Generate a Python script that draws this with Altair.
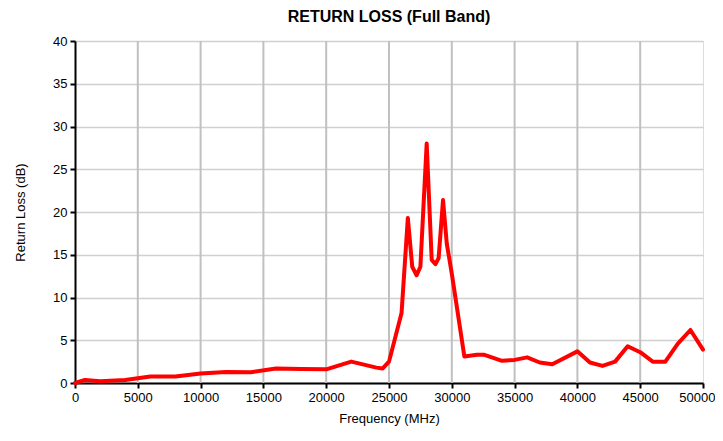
import altair as alt
import pandas as pd

freq = [0, 800, 2000, 4000, 6000, 8000, 10000, 12000, 14000, 16000, 18000, 20000,
        22000, 24000, 24500, 25000, 26000, 26500, 26850, 27200, 27500, 28000, 28400,
        28700, 28950, 29300, 29600, 30000, 31000, 32000, 32600, 34000, 35000, 36000,
        37000, 38000, 40000, 41000, 42000, 43000, 44000, 45000, 46000, 47000, 48000,
        49000, 50000]
rl = [0.0, 0.35, 0.2, 0.35, 0.75, 0.75, 1.1, 1.3, 1.25, 1.7, 1.65, 1.6,
      2.5, 1.8, 1.7, 2.5, 8.2, 19.3, 13.6, 12.6, 13.6, 28.0, 14.4,
      13.9, 14.6, 21.4, 16.3, 12.8, 3.1, 3.3, 3.3, 2.6, 2.7, 3.0,
      2.4, 2.2, 3.7, 2.4, 2.0, 2.5, 4.3, 3.6, 2.5, 2.5, 4.6,
      6.2, 3.9]

df = pd.DataFrame({"f": freq, "rl": rl})

font = "Liberation Sans"

base = alt.Chart(df)

vgrid = alt.Chart(pd.DataFrame({"v": list(range(5000, 50000, 5000))})).mark_rule(
    color="#c0c0c0", strokeWidth=2).encode(x=alt.X("v:Q", scale=alt.Scale(domain=[0, 50000])))

line = base.mark_line(color="#ff0000", strokeWidth=4, interpolate="linear",
                      strokeJoin="round", strokeCap="round").encode(
    x=alt.X("f:Q", scale=alt.Scale(domain=[0, 50000], nice=False),
            axis=alt.Axis(title="Frequency (MHz)", values=list(range(0, 50001, 5000)),
                          grid=False, format="d", domainColor="black", domainWidth=2,
                          tickColor="black", tickSize=5, tickWidth=2, labelFlush=False,
                          labelOverlap=False,
                          labelAlign=alt.expr("datum.value == 50000 ? 'right' : 'center'"),
                          labelOffset=alt.expr("datum.value == 50000 ? 12 : 0"),
                          labelFont=font, labelFontSize=13, labelColor="black",
                          titleFont=font, titleFontSize=13, titleFontWeight="normal",
                          titleColor="black", labelPadding=3, titlePadding=8)),
    y=alt.Y("rl:Q", scale=alt.Scale(domain=[0, 40], nice=False),
            axis=alt.Axis(title="Return Loss (dB)", values=list(range(0, 41, 5)),
                          grid=True, gridColor="#d0d0d0", gridWidth=1.5,
                          domainColor="black", domainWidth=2, labelFlush=False,
                          tickColor="black", tickSize=5, tickWidth=2,
                          labelFont=font, labelFontSize=13, labelColor="black",
                          titleFont=font, titleFontSize=13, titleFontWeight="normal",
                          titleColor="black", labelPadding=3, titlePadding=25)),
)

chart = alt.layer(vgrid, line).properties(
    width=628, height=342,
    title=alt.TitleParams("RETURN LOSS (Full Band)", font=font, fontSize=16,
                          fontWeight="bold", color="black", offset=10),
    autosize=alt.AutoSizeParams(type="none"),
    padding={"left": 67, "top": 33, "right": 12, "bottom": 50},
).configure_view(stroke="black", strokeWidth=2).configure(background="white")

chart.save("out.html", embed_options={"renderer": "svg", "actions": False})
